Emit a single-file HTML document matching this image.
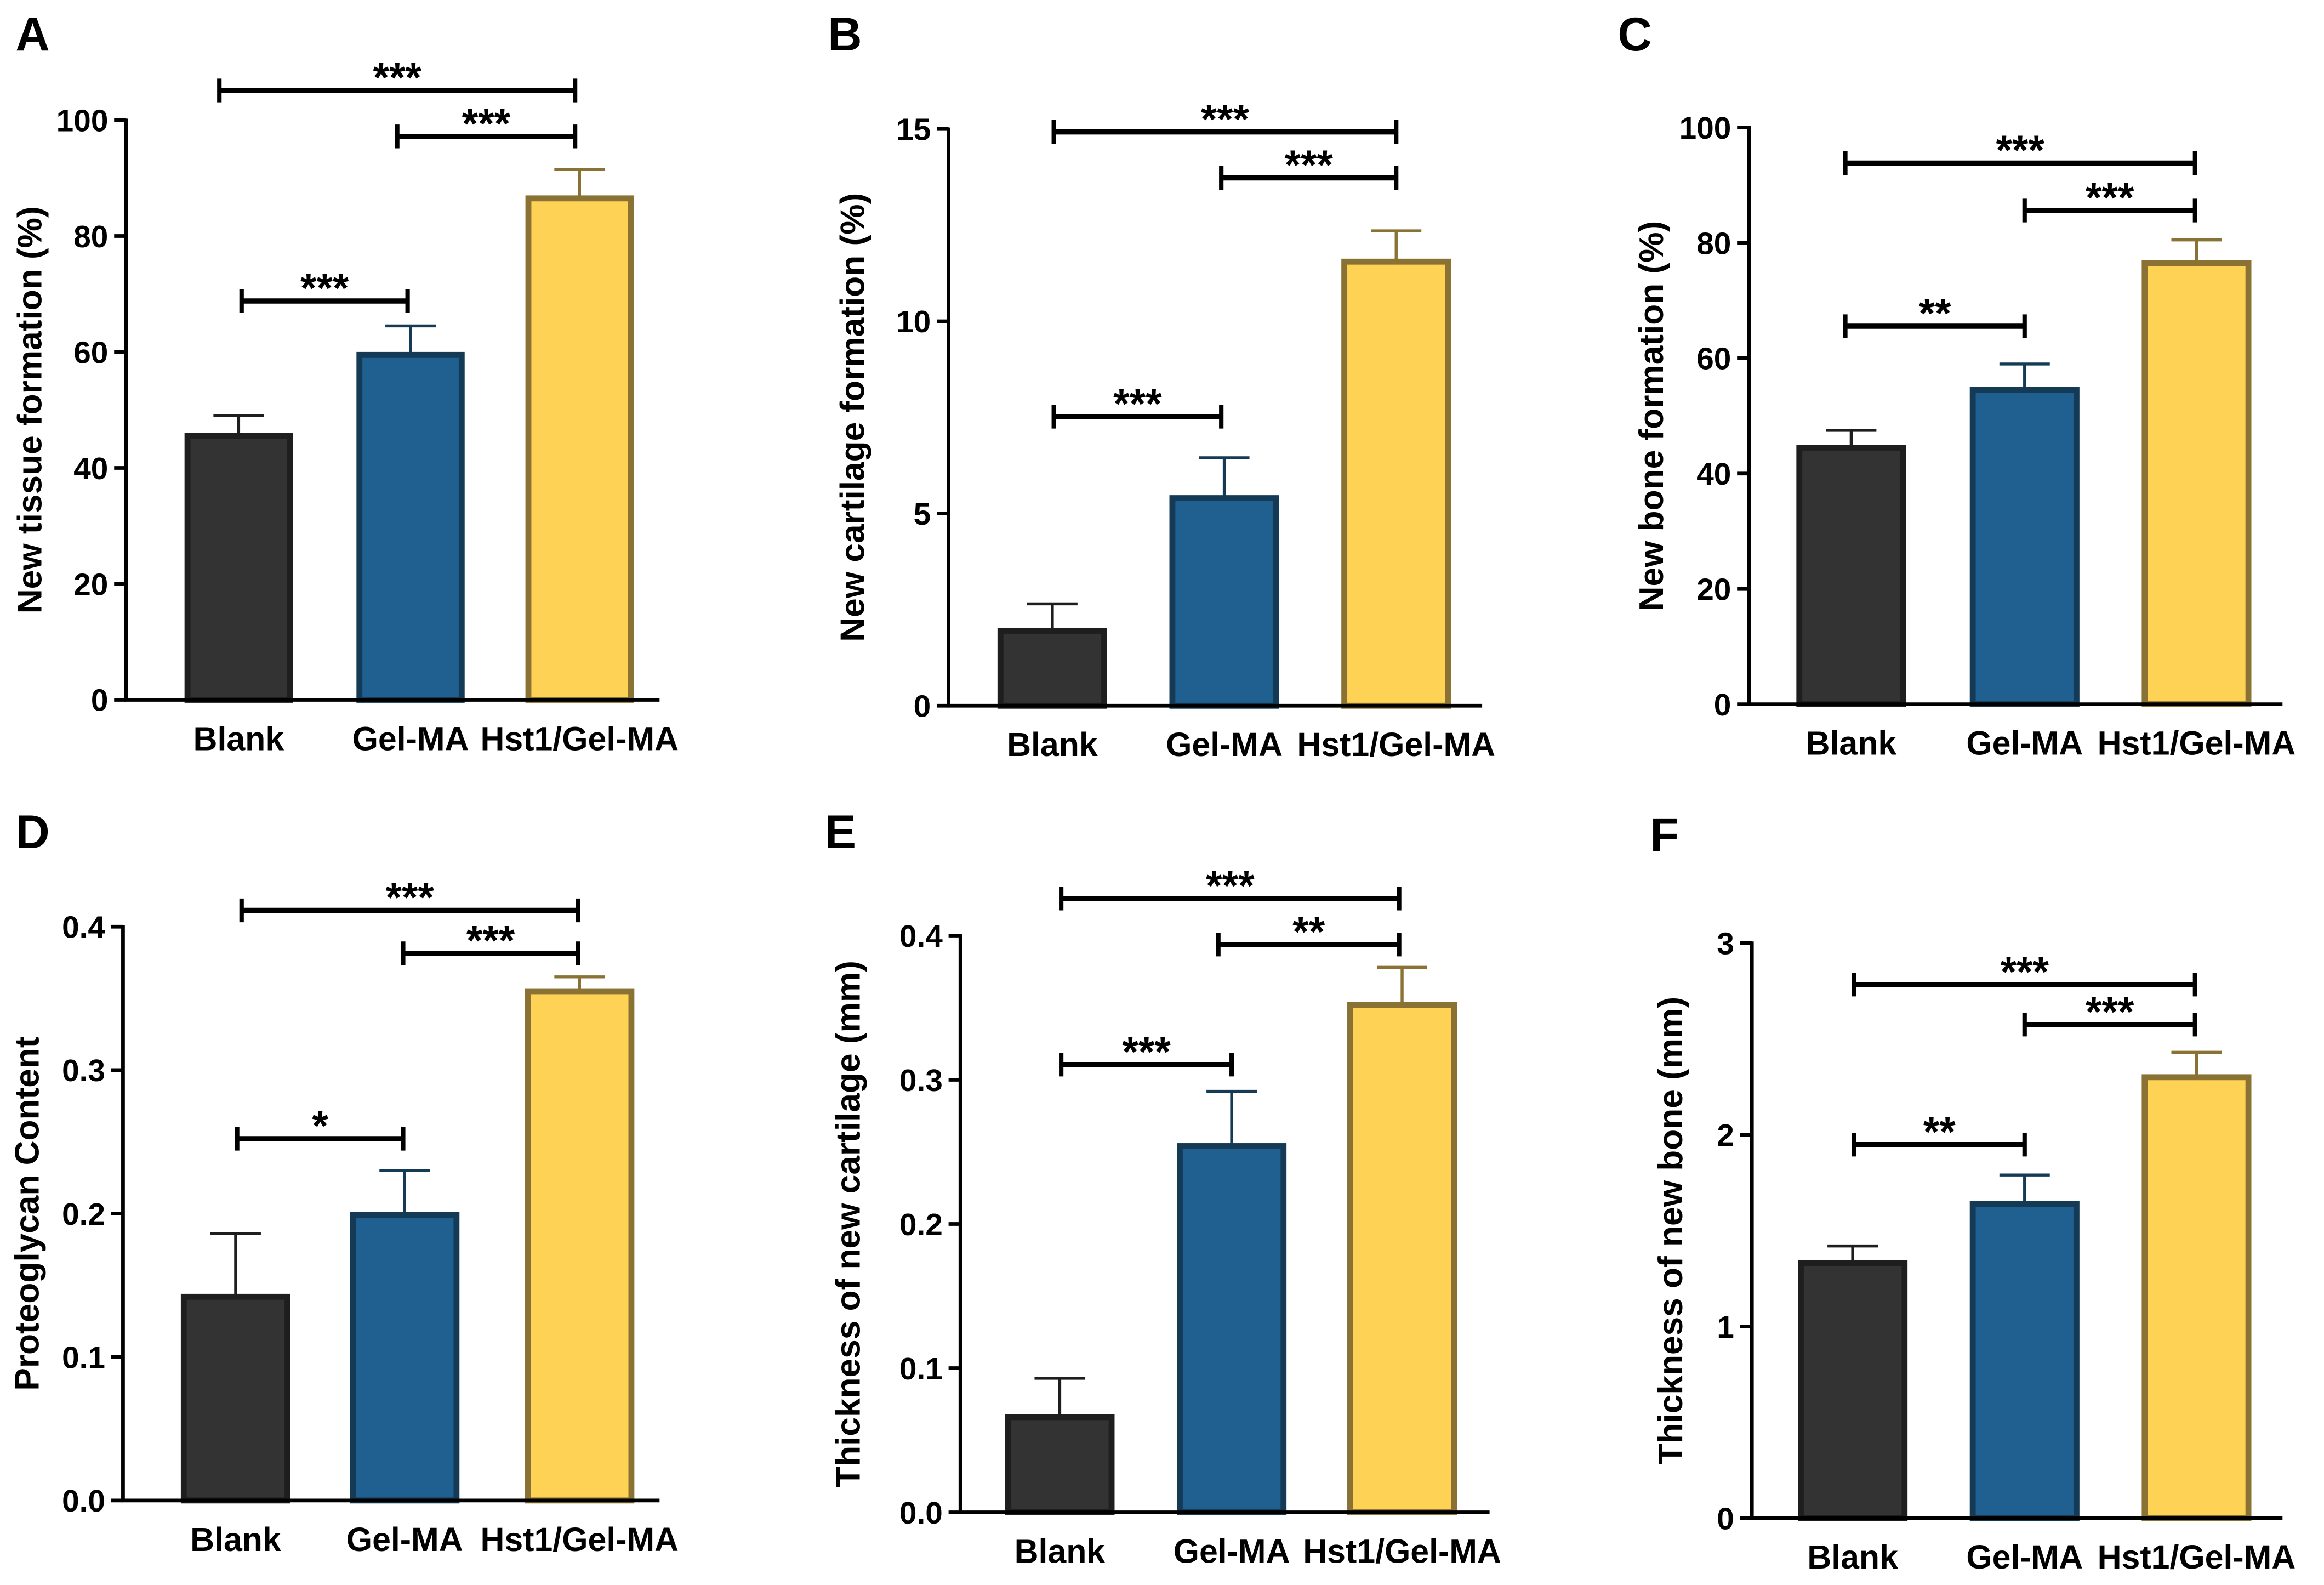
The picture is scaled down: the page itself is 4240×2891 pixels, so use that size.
<!DOCTYPE html>
<html><head><meta charset="utf-8"><style>
html,body{margin:0;padding:0;background:#fff;}
svg{display:block;font-family:"Liberation Sans",Arial,sans-serif;}
</style></head><body>
<svg id="fig" width="4240" height="2891" viewBox="0 0 1568 1069" preserveAspectRatio="none" xmlns="http://www.w3.org/2000/svg"></svg>
<script>
const categories = ["Blank", "Gel-MA", "Hst1/Gel-MA"];
const valuesA = [45.5, 59.5, 86.5];
const errorsA = [3.5, 5, 5];
const ticksA = [0, 20, 40, 60, 80, 100];
const sigA = ["***", "***", "***"];
const valuesB = [1.95, 5.4, 11.55];
const errorsB = [0.7, 1.05, 0.8];
const ticksB = [0, 5, 10, 15];
const sigB = ["***", "***", "***"];
const valuesC = [44.5, 54.5, 76.5];
const errorsC = [3, 4.5, 4];
const ticksC = [0, 20, 40, 60, 80, 100];
const sigC = ["***", "***", "**"];
const valuesD = [0.142, 0.199, 0.355];
const errorsD = [0.044, 0.031, 0.010];
const ticksD = ["0.0", "0.1", "0.2", "0.3", "0.4"];
const sigD = ["***", "***", "*"];
const valuesE = [0.066, 0.254, 0.352];
const errorsE = [0.027, 0.038, 0.026];
const ticksE = ["0.0", "0.1", "0.2", "0.3", "0.4"];
const sigE = ["***", "**", "***"];
const valuesF = [1.33, 1.64, 2.30];
const errorsF = [0.09, 0.15, 0.13];
const ticksF = [0, 1, 2, 3];
const sigF = ["***", "***", "**"];

const NS = "http://www.w3.org/2000/svg";
const svg = document.getElementById("fig");
const fills = ["#333333", "#1f6090", "#fdd255"];
const strokes = ["#1e1e1e", "#143a55", "#8a7234"];

function mk(tag, attrs, parent, txt) {
  const e = document.createElementNS(NS, tag);
  for (const k in attrs) e.setAttribute(k, attrs[k]);
  if (txt !== undefined) e.textContent = txt;
  (parent || svg).appendChild(e);
  return e;
}

const panels = [
  {id:"a", letter:"A", lx:22, ly:22, ax:85, y0:472, yTop:81, max:100, xEnd:445, centers:[161,277,391], bw:73, vals:valuesA, errs:errorsA, ticks:ticksA, sig:sigA, title:"New tissue formation (%)", tx:20, brackets:[[61,148,388],[92,268,388],[203,163,275]]},
  {id:"b", letter:"B", lx:570, ly:22, ax:640, y0:476, yTop:87, max:15, xEnd:1000, centers:[710,826,942], bw:74, vals:valuesB, errs:errorsB, ticks:ticksB, sig:sigB, title:"New cartilage formation (%)", tx:575, brackets:[[89,711,942],[120,824,942],[281,711,824]]},
  {id:"c", letter:"C", lx:1103, ly:22, ax:1180, y0:475, yTop:86, max:100, xEnd:1540, centers:[1249,1366,1482], bw:74, vals:valuesC, errs:errorsC, ticks:ticksC, sig:sigC, title:"New bone formation (%)", tx:1114, brackets:[[110,1245,1481],[142,1366,1481],[220,1245,1366]]},
  {id:"d", letter:"D", lx:22, ly:560, ax:83, y0:1012, yTop:625, max:0.4, xEnd:445, centers:[159,273,391], bw:74, vals:valuesD, errs:errorsD, ticks:ticksD, sig:sigD, title:"Proteoglycan Content", tx:18, brackets:[[614,163,390],[643,272,390],[768,160,272]]},
  {id:"e", letter:"E", lx:567, ly:560, ax:648, y0:1020, yTop:631, max:0.4, xEnd:1005, centers:[715,831,946], bw:74, vals:valuesE, errs:errorsE, ticks:ticksE, sig:sigE, title:"Thickness of new cartilage (mm)", tx:572, brackets:[[606,716,944],[637,822,944],[718,716,831]]},
  {id:"f", letter:"F", lx:1123, ly:562, ax:1182, y0:1024, yTop:636, max:3, xEnd:1540, centers:[1250,1366,1482], bw:74, vals:valuesF, errs:errorsF, ticks:ticksF, sig:sigF, title:"Thickness of  new bone (mm)", tx:1127, brackets:[[664,1251,1481],[691,1366,1481],[772,1251,1366]]}
];

panels.forEach(p => {
  const g = mk("g", {});
  
  
  const y = v => p.y0 - (v / p.max) * (p.y0 - p.yTop);
  const L = mk("text", {x:p.lx, y:p.ly+12, "font-size":32, "font-weight":"bold", "text-anchor":"middle"}, g, p.letter);
  
  
  p.vals.forEach((v, i) => {
    const cx = p.centers[i], top = y(v), etop = y(v + p.errs[i]);
    const el = mk("line", {x1:cx, x2:cx, y1:top, y2:etop, stroke:strokes[i], "stroke-width":2}, g);
    
    
    const cap = mk("line", {x1:cx-17, x2:cx+17, y1:etop, y2:etop, stroke:strokes[i], "stroke-width":2}, g);
    
    
    const r = mk("rect", {x:cx-p.bw/2+2, y:top, width:p.bw-4, height:p.y0-top, fill:fills[i], stroke:strokes[i], "stroke-width":4}, g);
    
    
    const t = mk("text", {x:cx, y:p.y0+34, "font-size":22.5, "font-weight":"bold", "text-anchor":"middle"}, g, categories[i]);
    
    
  });
  const ya = mk("line", {x1:p.ax, x2:p.ax, y1:p.yTop-1, y2:p.y0+1, stroke:"#000", "stroke-width":2.5}, g);
  
  
  const xa = mk("line", {x1:p.ax-1, x2:p.xEnd, y1:p.y0, y2:p.y0, stroke:"#000", "stroke-width":2.5}, g);
  
  
  p.ticks.forEach((tv, k) => {
    const ty = y(parseFloat(tv));
    mk("line", {x1:p.ax-8, x2:p.ax, y1:ty, y2:ty, stroke:"#000", "stroke-width":2.5}, g);
    const t = mk("text", {x:p.ax-12, y:ty+7.5, "font-size":21, "font-weight":"bold", "text-anchor":"end"}, g, String(tv));
    
    
  });
  const cy = (p.y0 + p.yTop) / 2;
  const yt = mk("text", {x:p.tx, y:cy, "font-size":23, "font-weight":"bold", "text-anchor":"middle", transform:`rotate(-90 ${p.tx} ${cy})`, dy:8}, g, p.title);
  
  
  p.brackets.forEach((b, k) => {
    const [by, x1, x2] = b;
    const bg = mk("g", {}, g);
    
    
    mk("line", {x1:x1, x2:x2, y1:by, y2:by, stroke:"#000", "stroke-width":3.5}, bg);
    mk("line", {x1:x1, x2:x1, y1:by-8, y2:by+8, stroke:"#000", "stroke-width":3}, bg);
    mk("line", {x1:x2, x2:x2, y1:by-8, y2:by+8, stroke:"#000", "stroke-width":3}, bg);
    mk("text", {x:(x1+x2)/2, y:by+1, "font-size":28, "font-weight":"bold", "text-anchor":"middle"}, bg, p.sig[k]);
  });
});
</script>
</body></html>
